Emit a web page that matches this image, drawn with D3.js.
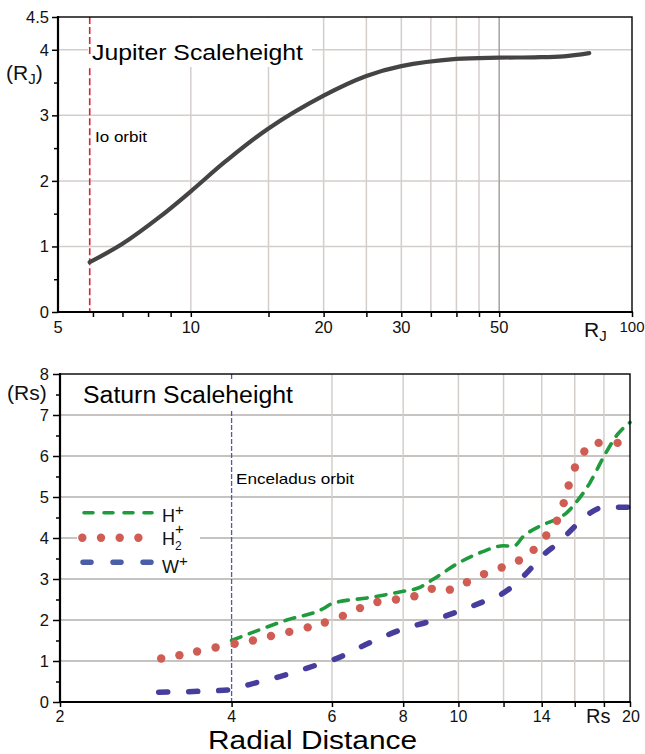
<!DOCTYPE html>
<html><head><meta charset="utf-8">
<script src="https://cdn.jsdelivr.net/npm/d3@7"></script>
<style>
html,body{margin:0;padding:0;background:#fff;}
svg{display:block;font-family:"Liberation Sans",Arial,Helvetica,sans-serif;}
</style></head>
<body>
<svg id="c" width="645" height="754"></svg>
<script>
// ---------- DATA ----------
// Jupiter scale height (R_J) vs radial distance (R_J)
const jupR = [5.9, 7, 8.5, 10, 12, 15, 20, 25, 30, 40, 50, 60, 70, 80];
const jupH = [0.76, 1.04, 1.45, 1.84, 2.30, 2.80, 3.30, 3.60, 3.75, 3.86, 3.88, 3.885, 3.90, 3.95];
const ioOrbit = 5.9;
const jupXTicks = [6, 7, 8, 9, 10, 15, 20, 25, 30, 35, 40, 45, 50, 100];
const jupXLabels = [5, 10, 20, 30, 50];
const jupXGrid = [10, 15, 20, 25, 30, 35, 40, 45];
const jupXGridDark = [50];
const jupYTicks = [0, 0.5, 1, 1.5, 2, 2.5, 3, 3.5, 4, 4.5];
const jupYLabels = [0, 1, 2, 3, 4, 4.5];
const jupYGrid = [1, 2, 3, 4];

// Saturn scale height (Rs) vs radial distance (Rs)
const hR = [4, 5, 5.8, 6, 7, 8, 8.5, 9, 10, 11, 12, 12.5, 13, 14, 15, 15.5, 16, 17, 18, 19, 20];
const hV = [1.5, 2.0, 2.28, 2.40, 2.55, 2.70, 2.78, 2.98, 3.39, 3.66, 3.81, 3.80, 4.04, 4.31, 4.49, 4.62, 4.83, 5.34, 5.99, 6.52, 6.82];
const h2R = [3.01, 3.24, 3.48, 3.75, 4.05, 4.36, 4.69, 5.05, 5.44, 5.83, 6.27, 6.72, 7.21, 7.77, 8.37, 8.98, 9.66, 10.35, 11.09, 11.91, 12.77, 13.55, 14.26, 14.89, 15.30, 15.61, 16.01, 16.63, 17.62, 19.02];
const h2V = [1.06, 1.14, 1.23, 1.33, 1.42, 1.50, 1.61, 1.71, 1.82, 1.94, 2.10, 2.29, 2.44, 2.50, 2.58, 2.76, 2.74, 2.92, 3.12, 3.28, 3.45, 3.71, 4.06, 4.42, 4.85, 5.28, 5.72, 6.11, 6.32, 6.32];
const wR = [2.98, 3.5, 4.0, 4.28, 4.86, 5.72, 6.03, 7.0, 8.0, 8.92, 10, 11.21, 12, 13.18, 14, 15.08, 16, 17.02, 18, 19.86];
const wV = [0.24, 0.26, 0.30, 0.42, 0.62, 0.93, 1.03, 1.45, 1.78, 1.97, 2.21, 2.48, 2.66, 3.15, 3.55, 3.92, 4.28, 4.61, 4.75, 4.75];
const enceladusOrbit = 4;
const satXTicks = [2, 4, 6, 8, 10, 12, 14, 16, 18, 20];
const satXLabels = [2, 4, 6, 8, 10, 14, 20];
const satXGrid = [6, 8, 10, 12, 14, 16, 18];
const satYTicks = [0, 0.5, 1, 1.5, 2, 2.5, 3, 3.5, 4, 4.5, 5, 5.5, 6, 6.5, 7, 7.5, 8];
const satYLabels = [0, 1, 2, 3, 4, 5, 6, 7, 8];
const satYGrid = [1, 2, 3, 4, 5, 6, 7];

const COL = {curve:"#444444", io:"#dc2039", enc:"#5b55a6", h:"#1f9a3c", h2:"#cf5d53", w:"#463d9c", wLeg:"#4a5ea8",
             gridL:"#d4cecb", gridD:"#a6a2a0", gridH:"#b3afad"};

const svg = d3.select("#c");

// ---------- TOP: JUPITER ----------
const xJ = d3.scaleLog().domain([5, 100]).range([58, 632]);
const yJ = d3.scaleLinear().domain([0, 4.5]).range([312, 17]);
const gJ = svg.append("g");

gJ.selectAll("line.hg").data(jupYGrid).join("line")
  .attr("x1", xJ.range()[0]).attr("x2", xJ.range()[1])
  .attr("y1", d => yJ(d)).attr("y2", d => yJ(d))
  .attr("stroke", COL.gridL).attr("stroke-width", 1.5);
gJ.selectAll("line.vg").data(jupXGrid).join("line")
  .attr("x1", d => xJ(d)).attr("x2", d => xJ(d))
  .attr("y1", yJ(0)).attr("y2", yJ(4.5))
  .attr("stroke", COL.gridL).attr("stroke-width", 1.5);
gJ.selectAll("line.vgd").data(jupXGridDark).join("line")
  .attr("x1", d => xJ(d)).attr("x2", d => xJ(d))
  .attr("y1", yJ(0)).attr("y2", yJ(4.5))
  .attr("stroke", COL.gridD).attr("stroke-width", 1.5);

// title background
gJ.append("rect").attr("x", 88).attr("y", 18).attr("width", 224).attr("height", 49).attr("fill", "#fff");

// Io orbit (two segments, gap behind title)
[[4.5, 3.93], [3.72, 0]].forEach(([a, b]) => {
  gJ.append("line").attr("x1", xJ(ioOrbit)).attr("x2", xJ(ioOrbit))
    .attr("y1", yJ(a)).attr("y2", yJ(b))
    .attr("stroke", COL.io).attr("stroke-width", 1.6).attr("stroke-dasharray", "7,3");
});

gJ.append("path").datum(jupR.map((r, i) => [r, jupH[i]]))
  .attr("d", d3.line().x(d => xJ(d[0])).y(d => yJ(d[1])).curve(d3.curveCatmullRom.alpha(0.5)))
  .attr("fill", "none").attr("stroke", COL.curve).attr("stroke-width", 4.2).attr("stroke-linecap", "round");

// frame
gJ.append("rect").attr("x", 58).attr("y", 17).attr("width", 574).attr("height", 295)
  .attr("fill", "none").attr("stroke", "#000").attr("stroke-width", 1.4);
gJ.append("line").attr("x1", 58).attr("x2", 58).attr("y1", 16).attr("y2", 313).attr("stroke", "#000").attr("stroke-width", 2.2);
gJ.append("line").attr("x1", 57).attr("x2", 633).attr("y1", 312).attr("y2", 312).attr("stroke", "#000").attr("stroke-width", 2.2);

// axes
const axJx = gJ.append("g").attr("transform", "translate(0,312)")
  .call(d3.axisBottom(xJ).tickValues(jupXTicks).tickSize(5).tickSizeOuter(0).tickFormat(() => ""));
const axJy = gJ.append("g").attr("transform", "translate(58,0)")
  .call(d3.axisLeft(yJ).tickValues(jupYTicks).tickSize(5).tickSizeOuter(0).tickFormat(() => ""));
[axJx, axJy].forEach(a => { a.select(".domain").remove(); a.selectAll("line").attr("stroke", "#000").attr("stroke-width", 1.5); });
axJy.selectAll(".tick line").attr("x2", d => Number.isInteger(d) || d === 4.5 ? -6 : -4);

gJ.selectAll("text.xl").data(jupXLabels).join("text")
  .attr("x", d => xJ(d)).attr("y", 333).attr("text-anchor", "middle")
  .attr("font-size", 16.5).attr("fill", "#111").text(d => d);
gJ.append("text").attr("x", xJ(100)).attr("y", 332).attr("text-anchor", "middle")
  .attr("font-size", 15).attr("fill", "#111").text("100");
gJ.selectAll("text.yl").data(jupYLabels).join("text")
  .attr("x", 49).attr("y", d => yJ(d) + 6).attr("text-anchor", "end")
  .attr("font-size", 16.5).attr("fill", "#111").text(d => d);

const rjx = gJ.append("text").attr("x", 584).attr("y", 337).attr("font-size", 21).attr("fill", "#111");
rjx.append("tspan").text("R");
rjx.append("tspan").attr("dy", 4).attr("font-size", 15).text("J");
const rjy = gJ.append("text").attr("x", 6).attr("y", 80).attr("font-size", 21).attr("fill", "#111");
rjy.append("tspan").text("(R");
rjy.append("tspan").attr("dy", 4).attr("font-size", 15).text("J");
rjy.append("tspan").attr("dy", -4).text(")");

gJ.append("text").attr("x", 92).attr("y", 60).attr("font-size", 22.5).attr("fill", "#000")
  .attr("textLength", 211).attr("lengthAdjust", "spacingAndGlyphs").text("Jupiter Scaleheight");
gJ.append("text").attr("x", 95).attr("y", 142).attr("font-size", 15).attr("fill", "#000")
  .attr("textLength", 52).attr("lengthAdjust", "spacingAndGlyphs").text("Io orbit");

// ---------- BOTTOM: SATURN ----------
const xS = d3.scaleLog().domain([2, 20]).range([60, 630]);
const yS = d3.scaleLinear().domain([0, 8]).range([702, 374]);
const gS = svg.append("g");

gS.selectAll("line.hg").data(satYGrid).join("line")
  .attr("x1", xS.range()[0]).attr("x2", xS.range()[1])
  .attr("y1", d => yS(d)).attr("y2", d => yS(d))
  .attr("stroke", COL.gridH).attr("stroke-width", 1.5);
gS.selectAll("line.vg").data(satXGrid).join("line")
  .attr("x1", d => xS(d)).attr("x2", d => xS(d))
  .attr("y1", yS(0)).attr("y2", yS(8))
  .attr("stroke", COL.gridL).attr("stroke-width", 1.5);

// title background
gS.append("rect").attr("x", 80).attr("y", 381).attr("width", 222).attr("height", 30).attr("fill", "#fff");
// legend background
gS.append("rect").attr("x", 77).attr("y", 500).attr("width", 123).attr("height", 77).attr("fill", "#fff");

// Enceladus orbit
[[8, 7.85], [7.1, 0]].forEach(([a, b]) => {
  gS.append("line").attr("x1", xS(enceladusOrbit)).attr("x2", xS(enceladusOrbit))
    .attr("y1", yS(a)).attr("y2", yS(b))
    .attr("stroke", COL.enc).attr("stroke-width", 1.3).attr("stroke-dasharray", "5,2");
});

const lineS = d3.line().x(d => xS(d[0])).y(d => yS(d[1])).curve(d3.curveMonotoneX);
gS.append("path").datum(wR.map((r, i) => [r, wV[i]])).attr("d", lineS)
  .attr("fill", "none").attr("stroke", COL.w).attr("stroke-width", 5.5)
  .attr("stroke-linecap", "round").attr("stroke-dasharray", "9,21");
gS.append("path").datum(hR.map((r, i) => [r, hV[i]])).attr("d", lineS)
  .attr("fill", "none").attr("stroke", COL.h).attr("stroke-width", 3.6)
  .attr("stroke-linecap", "round").attr("stroke-dasharray", "10,9");
gS.selectAll("circle.h2").data(h2R.map((r, i) => [r, h2V[i]])).join("circle")
  .attr("cx", d => xS(d[0])).attr("cy", d => yS(d[1])).attr("r", 4.2).attr("fill", COL.h2);

// frame
gS.append("rect").attr("x", 60).attr("y", 374).attr("width", 570).attr("height", 328)
  .attr("fill", "none").attr("stroke", "#000").attr("stroke-width", 1.4);
gS.append("line").attr("x1", 60).attr("x2", 60).attr("y1", 373).attr("y2", 703).attr("stroke", "#000").attr("stroke-width", 2.2);
gS.append("line").attr("x1", 59).attr("x2", 631).attr("y1", 702).attr("y2", 702).attr("stroke", "#000").attr("stroke-width", 2.2);

const axSx = gS.append("g").attr("transform", "translate(0,702)")
  .call(d3.axisBottom(xS).tickValues(satXTicks).tickSize(5).tickSizeOuter(0).tickFormat(() => ""));
const axSy = gS.append("g").attr("transform", "translate(60,0)")
  .call(d3.axisLeft(yS).tickValues(satYTicks).tickSize(5).tickSizeOuter(0).tickFormat(() => ""));
[axSx, axSy].forEach(a => { a.select(".domain").remove(); a.selectAll("line").attr("stroke", "#000").attr("stroke-width", 1.5); });
axSy.selectAll(".tick line").attr("x2", d => Number.isInteger(d) ? -7 : -4);

gS.selectAll("text.xl").data(satXLabels).join("text")
  .attr("x", d => xS(d) + (d === 20 ? 1 : 0)).attr("y", 722).attr("text-anchor", "middle")
  .attr("font-size", 16).attr("fill", "#111").text(d => d);
gS.selectAll("text.yl").data(satYLabels).join("text")
  .attr("x", 49).attr("y", d => yS(d) + 6).attr("text-anchor", "end")
  .attr("font-size", 16.5).attr("fill", "#111").text(d => d);

gS.append("text").attr("x", 586).attr("y", 723).attr("font-size", 20).attr("fill", "#111").text("Rs");
gS.append("text").attr("x", 7).attr("y", 400).attr("font-size", 21).attr("fill", "#111").text("(Rs)");
gS.append("text").attr("x", 83).attr("y", 403).attr("font-size", 23).attr("fill", "#000")
  .attr("textLength", 210).attr("lengthAdjust", "spacingAndGlyphs").text("Saturn Scaleheight");
gS.append("text").attr("x", 236).attr("y", 484).attr("font-size", 15).attr("fill", "#000")
  .attr("textLength", 118).attr("lengthAdjust", "spacingAndGlyphs").text("Enceladus orbit");
svg.append("text").attr("x", 208).attr("y", 748.5).attr("font-size", 25).attr("fill", "#000")
  .attr("textLength", 209).attr("lengthAdjust", "spacingAndGlyphs").text("Radial Distance");

// legend
const legY = [512.7, 537.7, 562.3];
gS.append("line").attr("x1", 84).attr("x2", 152).attr("y1", legY[0]).attr("y2", legY[0])
  .attr("stroke", COL.h).attr("stroke-width", 3.6).attr("stroke-linecap", "round").attr("stroke-dasharray", "9,11");
gS.selectAll("circle.leg").data([0, 1, 2, 3]).join("circle")
  .attr("cx", d => 82.3 + d * 18.7).attr("cy", legY[1]).attr("r", 4.2).attr("fill", COL.h2);
gS.append("line").attr("x1", 83).attr("x2", 152).attr("y1", legY[2]).attr("y2", legY[2])
  .attr("stroke", COL.wLeg).attr("stroke-width", 5.5).attr("stroke-linecap", "round").attr("stroke-dasharray", "8,22");

const t1 = gS.append("text").attr("x", 162).attr("y", 521.5).attr("font-size", 18).attr("fill", "#111");
t1.append("tspan").text("H"); t1.append("tspan").attr("dy", -7).attr("font-size", 15).text("+");
const t2 = gS.append("text").attr("x", 162).attr("y", 545).attr("font-size", 18).attr("fill", "#111");
t2.append("tspan").text("H");
t2.append("tspan").attr("dy", 5).attr("font-size", 12).text("2");
t2.append("tspan").attr("x", 175).attr("dy", -16).attr("font-size", 15).text("+");
const t3 = gS.append("text").attr("x", 162).attr("y", 573).attr("font-size", 18).attr("fill", "#111");
t3.append("tspan").text("W"); t3.append("tspan").attr("dy", -7).attr("font-size", 15).text("+");
</script>
</body></html>
